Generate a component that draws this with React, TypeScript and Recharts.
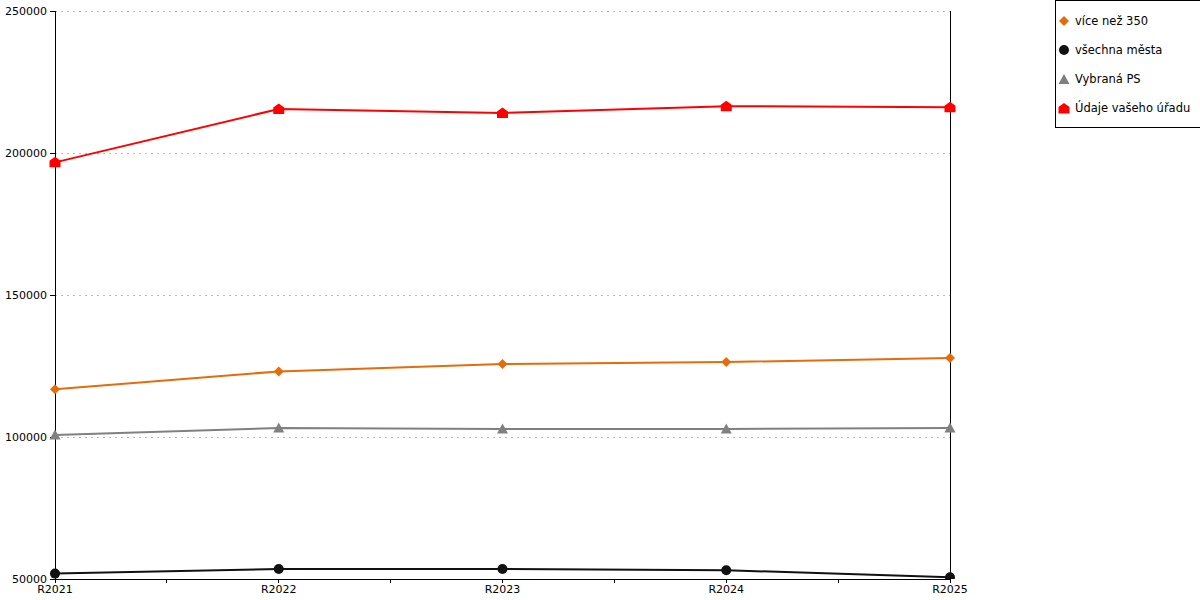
import React from 'react';
import { LineChart, Line, XAxis, YAxis, CartesianGrid, Legend } from 'recharts';

const categories = ['R2021', 'R2022', 'R2023', 'R2024', 'R2025'];
const viceNez350 = [116800, 123100, 125700, 126400, 127800];
const vsechnaMesta = [51900, 53500, 53500, 53100, 50600];
const vybranaPS = [100700, 103200, 102800, 102800, 103200];
const udajeUradu = [196700, 215500, 214100, 216500, 216100];
const yTicks = [50000, 100000, 150000, 200000, 250000];
const xTicks = [0, 0.5, 1, 1.5, 2, 2.5, 3, 3.5, 4];

const data = categories.map((c, i) => ({
  x: i,
  name: c,
  vice: viceNez350[i],
  vsechna: vsechnaMesta[i],
  vybrana: vybranaPS[i],
  udaje: udajeUradu[i],
}));

const ORANGE = '#E46C0A';
const BLACK = '#111111';
const GRAY = '#808080';
const RED = '#FF0000';

const diamondPath = (cx: number, cy: number) =>
  `M${cx},${cy - 5}L${cx + 5},${cy}L${cx},${cy + 5}L${cx - 5},${cy}Z`;
const trianglePath = (cx: number, cy: number) =>
  `M${cx},${cy - 5.5}L${cx + 5.5},${cy + 4.5}L${cx - 5.5},${cy + 4.5}Z`;
const housePath = (cx: number, cy: number) =>
  `M${cx},${cy - 5.5}L${cx + 5.5},${cy - 1.5}L${cx + 5.5},${cy + 5}L${cx - 5.5},${cy + 5}L${cx - 5.5},${cy - 1.5}Z`;

const DiamondDot = (p: any) => <path key={p.index} d={diamondPath(p.cx, p.cy)} fill={ORANGE} />;
const CircleDot = (p: any) => <circle key={p.index} cx={p.cx} cy={p.cy} r={5} fill={BLACK} />;
const TriangleDot = (p: any) => <path key={p.index} d={trianglePath(p.cx, p.cy)} fill={GRAY} />;
const HouseDot = (p: any) => <path key={p.index} d={housePath(p.cx, p.cy)} fill={RED} />;

const legendItems = [
  { label: 'více než 350', kind: 'diamond', color: ORANGE },
  { label: 'všechna města', kind: 'circle', color: BLACK },
  { label: 'Vybraná PS', kind: 'triangle', color: GRAY },
  { label: 'Údaje vašeho úřadu', kind: 'house', color: RED },
];

const LegendIcon = ({ kind, color }: { kind: string; color: string }) => (
  <svg width={12} height={12} style={{ display: 'block' }}>
    {kind === 'diamond' && <path d={diamondPath(6, 6)} fill={color} />}
    {kind === 'circle' && <circle cx={6} cy={6} r={5} fill={color} />}
    {kind === 'triangle' && <path d={trianglePath(6, 6.5)} fill={color} />}
    {kind === 'house' && <path d={housePath(6, 6.5)} fill={color} />}
  </svg>
);

const LegendContent = () => (
  <div
    style={{
      border: '1px solid #000',
      width: 142,
      boxSizing: 'content-box',
      padding: '5px 0 5px 2px',
      background: '#fff',
      fontFamily: 'DejaVu Sans',
      fontSize: 11.5,
      color: '#000',
    }}
  >
    {legendItems.map((it) => (
      <div key={it.label} style={{ height: 29, display: 'flex', alignItems: 'center' }}>
        <LegendIcon kind={it.kind} color={it.color} />
        <span style={{ marginLeft: 5, whiteSpace: 'nowrap' }}>{it.label}</span>
      </div>
    ))}
  </div>
);

const xLabel = (v: number) => (Number.isInteger(v) ? categories[v] : '');
const crisp = { stroke: '#000', shapeRendering: 'crispEdges' } as any;

export default function App() {
  return (
    <div style={{ position: 'absolute', left: 0, top: 0, width: 1200, height: 600, background: '#fff' }}>
      <LineChart
        width={1200}
        height={600}
        data={data}
        margin={{ top: 11, right: 104, left: 0, bottom: 0 }}
        style={{ fontFamily: 'DejaVu Sans' }}
      >
        <CartesianGrid
          xAxisId="main"
          yAxisId="left"
          vertical={false}
          stroke="#bbbbbb"
          strokeDasharray="2 4"
          shapeRendering="crispEdges"
        />
        <XAxis
          xAxisId="main"
          type="number"
          dataKey="x"
          domain={[0, 4]}
          ticks={xTicks}
          tickFormatter={xLabel}
          height={21}
          stroke="#000"
          axisLine={crisp}
          tickLine={crisp}
          tickSize={4}
          tickMargin={2}
          tick={{ fill: '#000', fontSize: 11 }}
          interval={0}
        />
        <YAxis
          yAxisId="left"
          width={55}
          domain={[50000, 250000]}
          ticks={yTicks}
          stroke="#000"
          axisLine={crisp}
          tickLine={crisp}
          tickSize={5}
          tickMargin={3}
          tick={{ fill: '#000', fontSize: 11 }}
          allowDataOverflow
        />
        <YAxis
          yAxisId="right"
          orientation="right"
          width={1}
          domain={[50000, 250000]}
          ticks={yTicks}
          tick={false}
          tickLine={false}
          stroke="#000"
          axisLine={crisp}
        />
        <Legend
          layout="vertical"
          align="right"
          verticalAlign="top"
          content={<LegendContent />}
          wrapperStyle={{ left: 1055, top: 0, right: 'auto', width: 145 }}
        />
        <Line
          xAxisId="main"
          yAxisId="left"
          dataKey="vice"
          name="více než 350"
          stroke={ORANGE}
          strokeWidth={2}
          dot={DiamondDot}
          activeDot={false}
          isAnimationActive={false}
        />
        <Line
          xAxisId="main"
          yAxisId="left"
          dataKey="vsechna"
          name="všechna města"
          stroke={BLACK}
          strokeWidth={2}
          dot={CircleDot}
          activeDot={false}
          isAnimationActive={false}
        />
        <Line
          xAxisId="main"
          yAxisId="left"
          dataKey="vybrana"
          name="Vybraná PS"
          stroke={GRAY}
          strokeWidth={2}
          dot={TriangleDot}
          activeDot={false}
          isAnimationActive={false}
        />
        <Line
          xAxisId="main"
          yAxisId="left"
          dataKey="udaje"
          name="Údaje vašeho úřadu"
          stroke={RED}
          strokeWidth={2}
          dot={HouseDot}
          activeDot={false}
          isAnimationActive={false}
        />
      </LineChart>
    </div>
  );
}
